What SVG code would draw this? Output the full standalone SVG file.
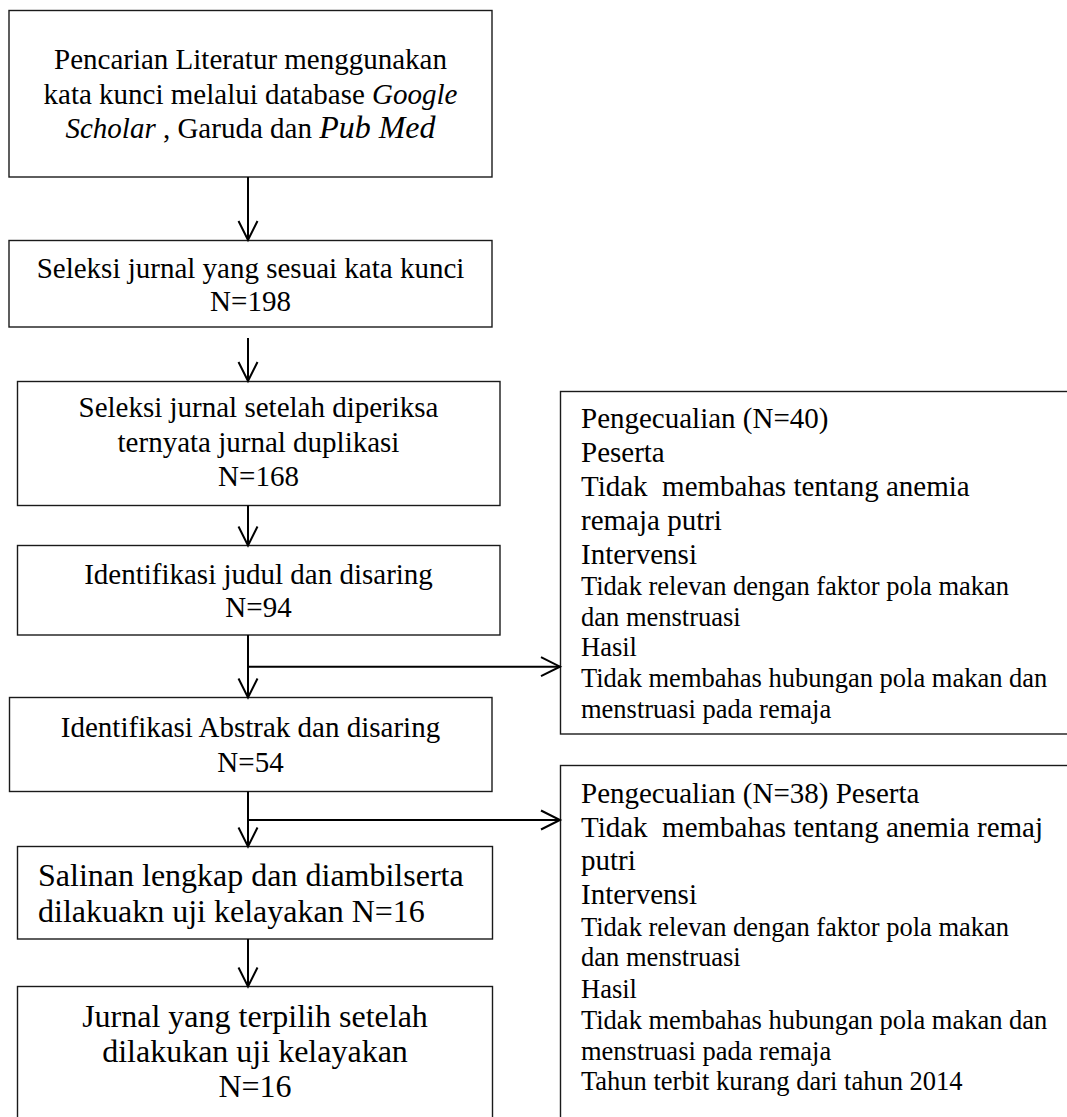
<svg xmlns="http://www.w3.org/2000/svg" width="1067" height="1117" viewBox="0 0 1067 1117">
<style>
  .box { fill: #fff; stroke: #1a1a1a; stroke-width: 1.4; }
  .t { font-family: "Liberation Serif", "Times New Roman", serif; font-size: 29px; fill: #000; }
  .c { text-anchor: middle; }
  .big { font-size: 32px; }
  .sm { font-size: 26.5px; }
  .it { font-style: italic; }
  .conn { fill: none; stroke: #000; stroke-width: 2; }
</style>
<defs>
  <marker id="ah" markerUnits="userSpaceOnUse" markerWidth="24" markerHeight="24" refX="20" refY="10" orient="auto" overflow="visible">
    <path d="M1,0.5 L20,10 L1,19.5" fill="none" stroke="#000" stroke-width="2"/>
  </marker>
</defs>
<rect width="1067" height="1117" fill="#fff"/>

<g id="n1">
  <rect class="box" x="9" y="10.5" width="483" height="166.5"/>
  <text class="t c" x="250.5" y="69">Pencarian Literatur menggunakan</text>
  <text class="t c" x="250.5" y="103.5">kata kunci melalui database <tspan class="it">Google</tspan></text>
  <text class="t c" x="250.5" y="138"><tspan class="it">Scholar</tspan> , Garuda dan <tspan class="it big">Pub Med</tspan></text>
</g>

<g id="n2">
  <rect class="box" x="9" y="240.5" width="483" height="86.5"/>
  <text class="t c" x="250.5" y="278">Seleksi jurnal yang sesuai kata kunci</text>
  <text class="t c" x="250.5" y="311">N=198</text>
</g>

<g id="n3">
  <rect class="box" x="17.5" y="381.5" width="482.5" height="124"/>
  <text class="t c" x="258.5" y="416.5">Seleksi jurnal setelah diperiksa</text>
  <text class="t c" x="258.5" y="451.5">ternyata jurnal duplikasi</text>
  <text class="t c" x="258.5" y="485.5">N=168</text>
</g>

<g id="n4">
  <rect class="box" x="17.5" y="545.5" width="482.5" height="89.5"/>
  <text class="t c" x="258.5" y="583.5">Identifikasi judul dan disaring</text>
  <text class="t c" x="258.5" y="617">N=94</text>
</g>

<g id="n5">
  <rect class="box" x="9.5" y="697.5" width="482.5" height="94"/>
  <text class="t c" x="250.5" y="736.5">Identifikasi Abstrak dan disaring</text>
  <text class="t c" x="250.5" y="772">N=54</text>
</g>

<g id="n6">
  <rect class="box" x="17.5" y="846.5" width="475" height="92.5"/>
  <text class="t big" x="38" y="885.5">Salinan lengkap dan diambilserta</text>
  <text class="t big" x="38" y="921.5">dilakuakn uji kelayakan N=16</text>
</g>

<g id="n7">
  <rect class="box" x="17.5" y="986.5" width="475" height="150"/>
  <text class="t c big" x="255" y="1027">Jurnal yang terpilih setelah</text>
  <text class="t c big" x="255" y="1061.5">dilakukan uji kelayakan</text>
  <text class="t c big" x="255" y="1097">N=16</text>
</g>

<g id="exA">
  <rect class="box" x="560.5" y="391.5" width="520" height="342.5"/>
  <text class="t" x="581" y="428">Pengecualian (N=40)</text>
  <text class="t" x="581" y="462">Peserta</text>
  <text class="t" x="581" y="496" xml:space="preserve">Tidak  membahas tentang anemia</text>
  <text class="t" x="581" y="530">remaja putri</text>
  <text class="t" x="581" y="564">Intervensi</text>
  <text class="t sm" x="581" y="595">Tidak relevan dengan faktor pola makan</text>
  <text class="t sm" x="581" y="625.5">dan menstruasi</text>
  <text class="t sm" x="581" y="656">Hasil</text>
  <text class="t sm" x="581" y="687">Tidak membahas hubungan pola makan dan</text>
  <text class="t sm" x="581" y="718">menstruasi pada remaja</text>
</g>

<g id="exB">
  <rect class="box" x="560.5" y="765.5" width="520" height="380"/>
  <text class="t" x="581" y="803">Pengecualian (N=38) Peserta</text>
  <text class="t" x="581" y="837" xml:space="preserve">Tidak  membahas tentang anemia remaj</text>
  <text class="t" x="581" y="870">putri</text>
  <text class="t" x="581" y="904">Intervensi</text>
  <text class="t sm" x="581" y="935.5">Tidak relevan dengan faktor pola makan</text>
  <text class="t sm" x="581" y="966">dan menstruasi</text>
  <text class="t sm" x="581" y="997.5">Hasil</text>
  <text class="t sm" x="581" y="1028.5">Tidak membahas hubungan pola makan dan</text>
  <text class="t sm" x="581" y="1059.5">menstruasi pada remaja</text>
  <text class="t sm" x="581" y="1090">Tahun terbit kurang dari tahun 2014</text>
</g>

<g id="connectors">
  <path class="conn" d="M248,177 V240" marker-end="url(#ah)"/>
  <path class="conn" d="M248,338 V381" marker-end="url(#ah)"/>
  <path class="conn" d="M248,505.5 V545.5" marker-end="url(#ah)"/>
  <path class="conn" d="M248,635 V697.5" marker-end="url(#ah)"/>
  <path class="conn" d="M248,666.7 H560" marker-end="url(#ah)"/>
  <path class="conn" d="M248,791.5 V846.5" marker-end="url(#ah)"/>
  <path class="conn" d="M248,820 H560" marker-end="url(#ah)"/>
  <path class="conn" d="M248,939 V986.5" marker-end="url(#ah)"/>
</g>
</svg>
